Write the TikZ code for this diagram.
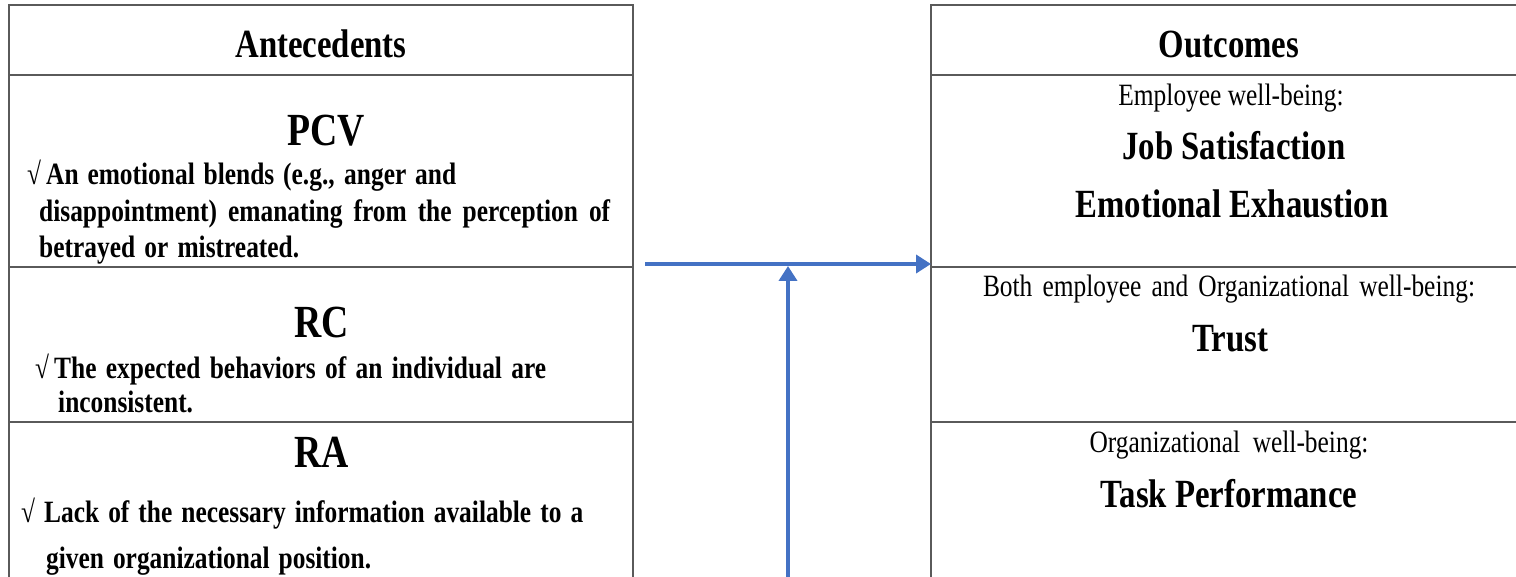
\documentclass[tikz,border=0pt]{standalone}
\usepackage{fontspec}
\setmainfont{Liberation Serif}[FakeStretch=0.82]
\usetikzlibrary{arrows.meta}
\definecolor{flowblue}{HTML}{4472C4}
\definecolor{rulegray}{HTML}{5A5A5A}
\begin{document}
\begin{tikzpicture}[x=1pt,y=-1pt,
  cell/.style={draw=rulegray, line width=1.8pt, rectangle, inner sep=0pt, outer sep=0pt, anchor=north west},
  txt/.style={inner sep=0pt, anchor=base},
  ltxt/.style={inner sep=0pt, anchor=base west},
  head/.style={txt, font=\fontsize{40}{44}\selectfont\bfseries},
  construct/.style={txt, font=\fontsize{46}{50}\selectfont\bfseries},
  note/.style={ltxt, font=\fontsize{31}{35}\selectfont\bfseries},
  tick/.style={ltxt, font=\fontsize{31}{35}\selectfont},
  level/.style={txt, font=\fontsize{31}{35}\selectfont},
  outcome/.style={txt, font=\fontsize{40}{44}\selectfont\bfseries},
  flow/.style={draw=flowblue, line width=4.5pt, -{Triangle[length=15pt,width=18pt]}}
]
\useasboundingbox (0,0) rectangle (1516,577);
\clip (0,0) rectangle (1516,577);

% left column: antecedents
\node[cell, minimum width=624pt, minimum height=70pt]  (antHead) at (9,5) {};
\node[cell, minimum width=624pt, minimum height=192pt] (pcvCell) at (9,75) {};
\node[cell, minimum width=624pt, minimum height=155pt] (rcCell)  at (9,267) {};
\node[cell, minimum width=624pt, minimum height=260pt] (raCell)  at (9,422) {};

% right column: outcomes
\node[cell, minimum width=596pt, minimum height=70pt]  (outHead) at (931,5) {};
\node[cell, minimum width=596pt, minimum height=192pt] (empCell) at (931,75) {};
\node[cell, minimum width=596pt, minimum height=155pt] (bothCell) at (931,267) {};
\node[cell, minimum width=596pt, minimum height=260pt] (orgCell) at (931,422) {};

% antecedent texts
\node[head] (antTitle) at (321,58) {Antecedents};
\node[construct] (pcvTitle) at (326,146) {PCV};
\node[tick] (pcvTick) at (27,185) {√};
\node[note] (pcvL1) at (46,185) {\makebox[410pt][s]{An emotional blends (e.g., anger and}};
\node[note] (pcvL2) at (39,222) {\makebox[571pt][s]{disappointment) emanating from the perception of}};
\node[note] (pcvL3) at (39,258) {\makebox[260pt][s]{betrayed or mistreated.}};

\node[construct] (rcTitle) at (322,338) {RC};
\node[tick] (rcTick) at (35,378) {√};
\node[note] (rcL1) at (54,378) {\makebox[492pt][s]{The expected behaviors of an individual are}};
\node[note] (rcL2) at (58,413) {inconsistent.};

\node[construct] (raTitle) at (322,467) {RA};
\node[tick] (raTick) at (21,522) {√};
\node[note] (raL1) at (44,522) {\makebox[539pt][s]{Lack of the necessary information available to a}};
\node[note] (raL2) at (46,568) {\makebox[325pt][s]{given organizational position.}};

% outcome texts
\node[head] (outTitle) at (1229,58) {Outcomes};
\node[level] (empLevel) at (1231,106) {Employee well-being:};
\node[outcome] (jobSat) at (1234,160) {Job Satisfaction};
\node[outcome] (emoEx) at (1232,218) {Emotional Exhaustion};
\node[level] (bothLevel) at (1229,297) {\makebox[492pt][s]{Both employee and Organizational well-being:}};
\node[outcome] (trust) at (1230,352) {Trust};
\node[level] (orgLevel) at (1229,452) {\makebox[279pt][s]{Organizational well-being:}};
\node[outcome] (taskPerf) at (1229,507) {Task Performance};

% connectors
\coordinate (hs) at (645,264);
\coordinate (vs) at (788,600);
\draw[flow] (hs) -- (hs -| empCell.west);
\draw[flow, shorten >=2pt] (vs) -- (vs |- hs);
\end{tikzpicture}
\end{document}
